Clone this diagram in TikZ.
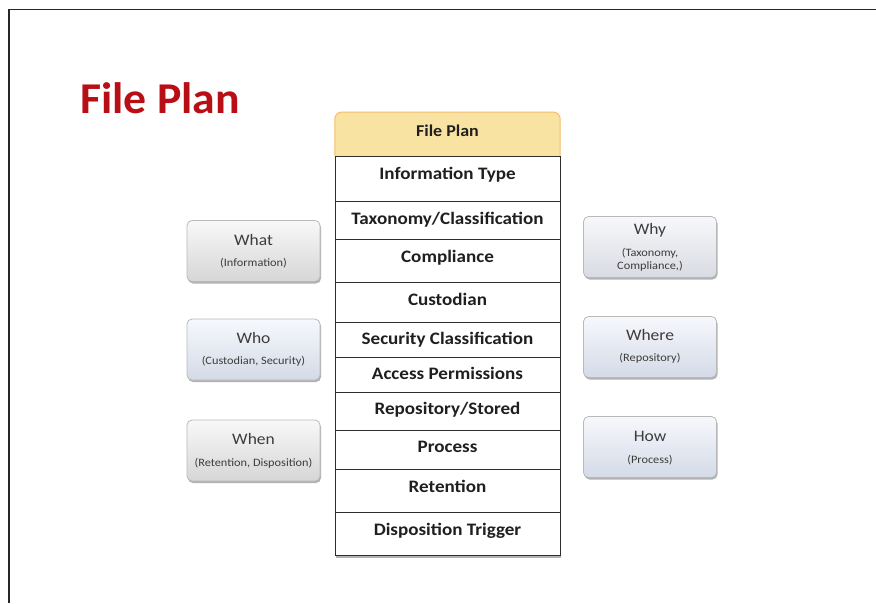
\documentclass[tikz,border=0pt]{standalone}
\usepackage{fontspec}
\setmainfont{Carlito}[FakeStretch=1.09]
\newfontfamily\titlefont{Carlito}[FakeStretch=1.04]
\usetikzlibrary{shadows}
\definecolor{titlered}{RGB}{184,14,22}
\definecolor{hdrfill}{RGB}{249,227,163}
\definecolor{hdrline}{RGB}{244,190,110}
\definecolor{rowline}{RGB}{45,45,45}
\definecolor{boxline}{RGB}{185,185,185}
\definecolor{greytop}{RGB}{248,248,248}
\definecolor{greybot}{RGB}{214,214,214}
\definecolor{bluetop}{RGB}{246,248,252}
\definecolor{bluebot}{RGB}{212,218,231}
\definecolor{mixtop}{RGB}{247,248,250}
\definecolor{mixbot}{RGB}{216,219,226}
\definecolor{sidetext}{RGB}{60,60,60}
\begin{document}
\begin{tikzpicture}[x=1pt,y=1pt,
  rowbox/.style={draw=rowline, line width=1pt, fill=white, minimum width=225pt, inner sep=0pt, anchor=north},
  rowtext/.style={font=\fontsize{17.5}{20}\selectfont\bfseries, text=black!88, text height=11pt, text depth=0pt, inner sep=0pt},
  sidebox/.style={draw=boxline, line width=0.8pt, rounded corners=5pt, minimum width=133pt, minimum height=61pt, inner sep=0pt, drop shadow={shadow xshift=1pt, shadow yshift=-2pt, opacity=0.3, fill=black}},
  greybox/.style={sidebox, top color=greytop, bottom color=greybot},
  bluebox/.style={sidebox, top color=bluetop, bottom color=bluebot},
  mixbox/.style={sidebox, top color=mixtop, bottom color=mixbot},
  sidetitle/.style={font=\fontsize{16}{19}\selectfont, text=sidetext, text height=10pt, text depth=0pt, inner sep=0pt},
  sidesub/.style={font=\fontsize{11.3}{13}\selectfont, text=sidetext, text height=7pt, text depth=0pt, inner sep=0pt},
]
\useasboundingbox (0,0) rectangle (876,-603);
% frame
\coordinate (ftl) at (9,-9.5);
\coordinate (ftr) at (876,-9.5);
\coordinate (fbl) at (9,-603);
\draw[line width=1.5pt, black!85] (ftr) -- (ftl) -- (fbl);
% title
\node[font=\titlefont\fontsize{44}{50}\selectfont\bfseries, text=titlered, anchor=base west, inner sep=0pt] (title) at (80,-113) {File Plan};
% header
\node[minimum width=225pt, minimum height=44pt, inner sep=0pt, anchor=north] (hdr) at (447.5,-112) {};
\path[fill=hdrfill, draw=hdrline, line width=1pt] (hdr.south west) [rounded corners=7pt] |- (hdr.north) -| (hdr.south east);
\node[rowtext, font=\fontsize{16.5}{20}\selectfont\bfseries, text height=10.5pt] (hdrT) at (447.5,-131) {File Plan};
% rows
\node[rowbox, minimum height=45pt] (info) at (447.5,-156) {};
\node[rowbox, minimum height=37.5pt] (tax) at (447.5,-201) {};
\node[rowbox, minimum height=43.5pt] (comp) at (447.5,-238.5) {};
\node[rowbox, minimum height=40pt] (cust) at (447.5,-282) {};
\node[rowbox, minimum height=35pt] (sec) at (447.5,-322) {};
\node[rowbox, minimum height=35pt] (acc) at (447.5,-357) {};
\node[rowbox, minimum height=38pt] (rep) at (447.5,-392) {};
\node[rowbox, minimum height=39pt] (proc) at (447.5,-430) {};
\node[rowbox, minimum height=42.5pt] (ret) at (447.5,-469) {};
\node[rowbox, minimum height=43.5pt, drop shadow={shadow xshift=0.5pt, shadow yshift=-2.5pt, opacity=0.3, fill=black}] (disp) at (447.5,-511.5) {};
\node[rowtext] (infoT) at (447.5,-174) {Information Type};
\node[rowtext] (taxT) at (447.5,-219) {Taxonomy/Classification};
\node[rowtext] (compT) at (447.5,-257) {Compliance};
\node[rowtext] (custT) at (447.5,-300) {Custodian};
\node[rowtext] (secT) at (447.5,-339) {Security Classification};
\node[rowtext] (accT) at (447.5,-374) {Access Permissions};
\node[rowtext] (repT) at (447.5,-409) {Repository/Stored};
\node[rowtext] (procT) at (447.5,-447) {Process};
\node[rowtext] (retT) at (447.5,-487) {Retention};
\node[rowtext] (dispT) at (447.5,-529.5) {Disposition Trigger};
% left boxes
\node[greybox] (what) at (253.5,-251) {};
\node[sidetitle] (whatT) at (253.5,-240) {What};
\node[sidesub] (whatS) at (253.5,-263) {(Information)};
\node[bluebox] (who) at (253.5,-349.5) {};
\node[sidetitle] (whoT) at (253.5,-338) {Who};
\node[sidesub] (whoS) at (253.5,-361) {(Custodian, Security)};
\node[greybox] (when) at (253.5,-450.5) {};
\node[sidetitle] (whenT) at (253.5,-439) {When};
\node[sidesub] (whenS) at (253.5,-463) {(Retention, Disposition)};
% right boxes
\node[mixbox] (why) at (650,-247) {};
\node[sidetitle] (whyT) at (650,-229) {Why};
\node[sidesub] (whyS1) at (650,-253) {(Taxonomy,};
\node[sidesub] (whyS2) at (650,-266) {Compliance,)};
\node[bluebox] (where) at (650,-347) {};
\node[sidetitle] (whereT) at (650,-335) {Where};
\node[sidesub] (whereS) at (650,-358) {(Repository)};
\node[bluebox] (how) at (650,-447) {};
\node[sidetitle] (howT) at (650,-436) {How};
\node[sidesub] (howS) at (650,-460) {(Process)};
\end{tikzpicture}
\end{document}
